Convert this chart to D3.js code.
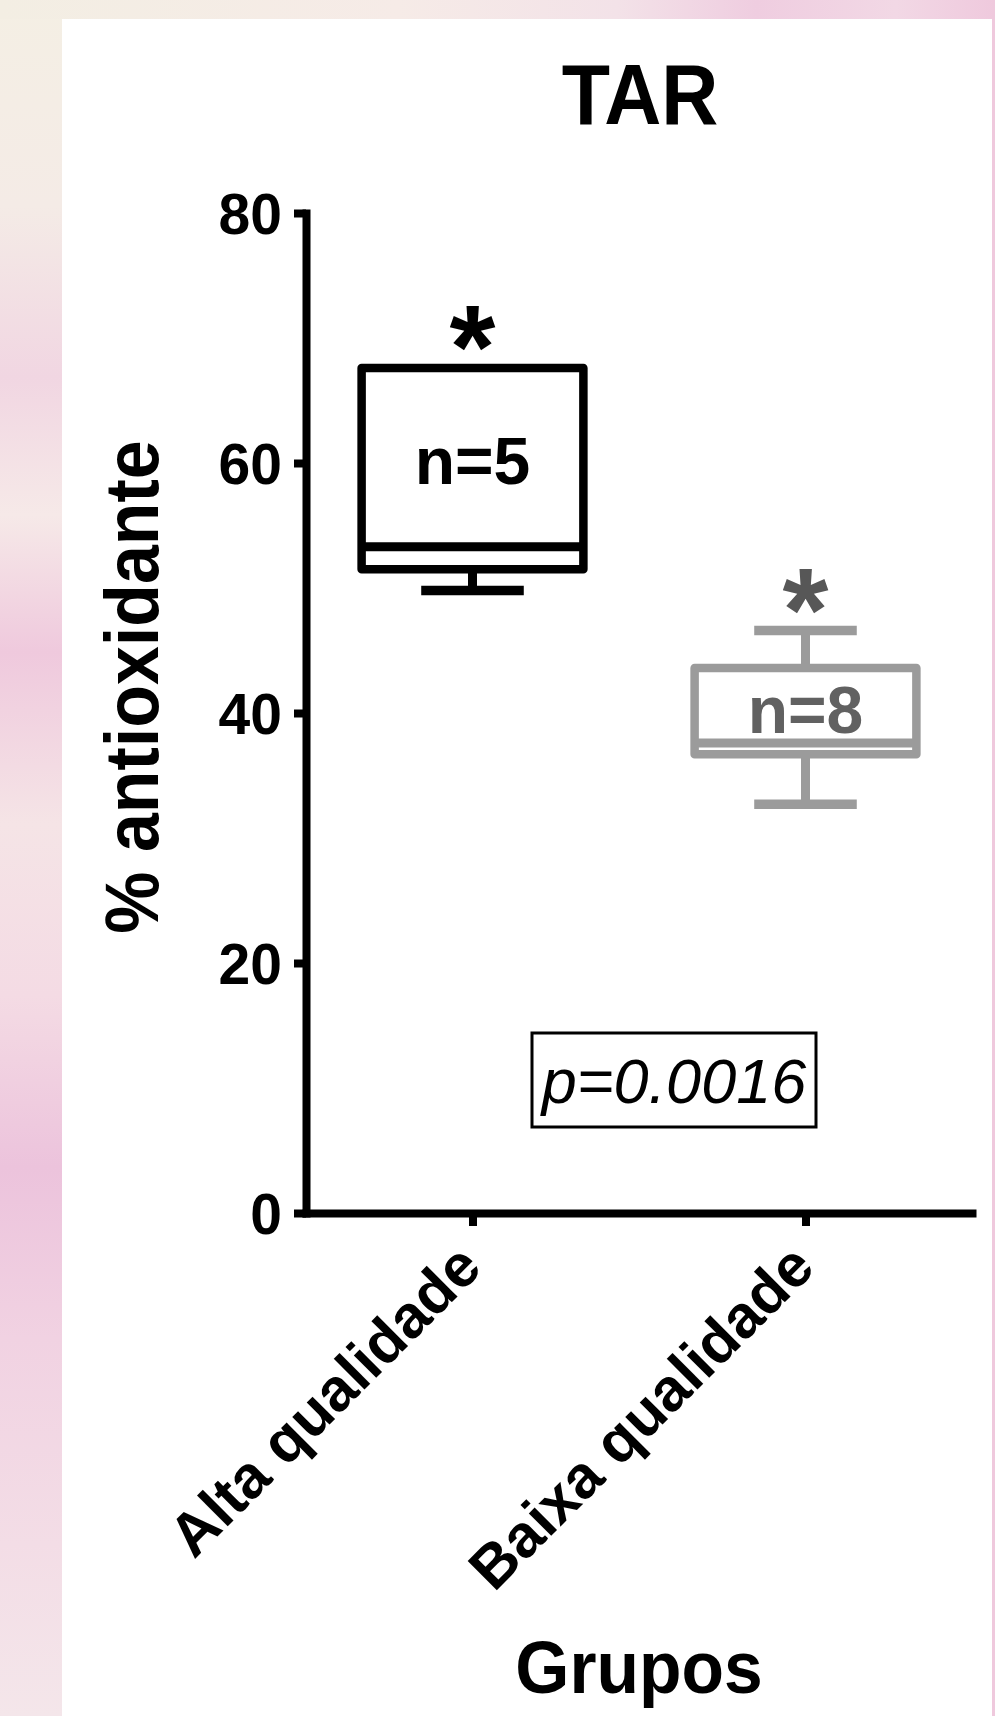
<!DOCTYPE html>
<html><head><meta charset="utf-8">
<script src="https://cdn.jsdelivr.net/npm/d3@7"></script>
<style>body{margin:0;background:#fff;} svg{display:block;}</style>
</head><body>
<svg id="c" width="995" height="1716"></svg>
<script>
// ---- data ----
const categories = ["Alta qualidade", "Baixa qualidade"];
const minValues = [49.8, 32.7];
const q1Values = [51.5, 36.7];
const medianValues = [53.3, 37.6];
const q3Values = [67.6, 43.6];
const maxValues = [67.6, 46.6];
const sampleLabels = ["n=5", "n=8"];
const yTicks = [0, 20, 40, 60, 80];
const chartTitle = "TAR";
const yTitle = "% antioxidante";
const xTitle = "Grupos";
const pValueText = "p=0.0016";

// ---- styles ----
const FONT = "'Liberation Sans', Arial, Helvetica, sans-serif";
const boxStroke = ["#000000", "#9b9b9b"];
const labelFill = ["#000000", "#616161"];
const starFill = ["#000000", "#575757"];

const svg = d3.select("#c");
const defs = svg.append("defs");

// background (blurred pink photo behind the white panel)
const gv = defs.append("linearGradient").attr("id", "bgv").attr("x1", 0).attr("y1", 0).attr("x2", 0).attr("y2", 1);
[["0%", "#f4efe4"], ["12%", "#f4ebe6"], ["22%", "#f1d6e2"], ["30%", "#f6e9e8"], ["38%", "#efc9dd"],
 ["48%", "#f5e4e6"], ["58%", "#f4dbe4"], ["68%", "#ecc3dc"], ["78%", "#f1d2e2"], ["90%", "#f3dde6"], ["100%", "#f4e6ea"]]
  .forEach(([o, c]) => gv.append("stop").attr("offset", o).attr("stop-color", c));
const gh = defs.append("linearGradient").attr("id", "bgh").attr("x1", 0).attr("y1", 0).attr("x2", 1).attr("y2", 0);
[["0%", "#f3eee3"], ["40%", "#f6ebe7"], ["62%", "#f3e2e8"], ["76%", "#efcde0"], ["90%", "#f2d8e5"], ["100%", "#efc9dd"]]
  .forEach(([o, c]) => gh.append("stop").attr("offset", o).attr("stop-color", c));

svg.append("rect").attr("width", 995).attr("height", 1716).attr("fill", "url(#bgv)");
svg.append("rect").attr("width", 995).attr("height", 19).attr("fill", "url(#bgh)");
svg.append("rect").attr("x", 992).attr("width", 3).attr("height", 1716).attr("fill", "#efc9dd");
svg.append("rect").attr("x", 62).attr("y", 19).attr("width", 930).attr("height", 1697).attr("fill", "#ffffff");

// ---- scales ----
const y = d3.scaleLinear().domain([0, 80]).range([1213, 213]);
const x = d3.scalePoint().domain(categories).range([306, 972]).padding(0.5);
const boxW = x.step() * 0.666;
const capW = x.step() * 0.308;

// ---- axes ----
const yAxis = svg.append("g").attr("transform", "translate(306,0)")
  .call(d3.axisLeft(y).tickValues(yTicks).tickSize(12).tickSizeOuter(0).tickPadding(12));
yAxis.select(".domain").attr("stroke", "#000").attr("stroke-width", 8).attr("stroke-linecap", "square");
yAxis.selectAll(".tick line").attr("stroke", "#000").attr("stroke-width", 8);
yAxis.selectAll(".tick text").attr("fill", "#000").attr("font-family", FONT)
  .attr("font-weight", "bold").attr("font-size", 57).attr("dy", "0.36em");

const xAxis = svg.append("g").attr("transform", "translate(0,1213)")
  .call(d3.axisBottom(x).tickSize(13).tickSizeOuter(0));
xAxis.select(".domain").attr("stroke", "#000").attr("stroke-width", 8).attr("stroke-linecap", "square");
xAxis.selectAll(".tick line").attr("stroke", "#000").attr("stroke-width", 8);
xAxis.selectAll(".tick text").attr("fill", "#000").attr("font-family", FONT)
  .attr("font-weight", "bold").attr("font-size", 60)
  .attr("x", null).attr("y", null).attr("dy", null)
  .attr("text-anchor", "end")
  .attr("transform", "translate(11,57) rotate(-45)");

// ---- boxes ----
const rows = categories.map((c, i) => ({
  c, i, min: minValues[i], q1: q1Values[i], med: medianValues[i], q3: q3Values[i], max: maxValues[i], n: sampleLabels[i]
}));

const g = svg.append("g");
rows.forEach(d => {
  const cx = x(d.c);
  const col = boxStroke[d.i];
  const grp = g.append("g");
  // whiskers
  grp.append("line").attr("x1", cx).attr("x2", cx).attr("y1", y(d.q1)).attr("y2", y(d.min))
    .attr("stroke", col).attr("stroke-width", 9);
  grp.append("line").attr("x1", cx).attr("x2", cx).attr("y1", y(d.q3)).attr("y2", y(d.max))
    .attr("stroke", col).attr("stroke-width", 9);
  grp.append("line").attr("x1", cx - capW / 2).attr("x2", cx + capW / 2).attr("y1", y(d.min)).attr("y2", y(d.min))
    .attr("stroke", col).attr("stroke-width", 9.5);
  if (d.max > d.q3) {
    grp.append("line").attr("x1", cx - capW / 2).attr("x2", cx + capW / 2).attr("y1", y(d.max)).attr("y2", y(d.max))
      .attr("stroke", col).attr("stroke-width", 9.5);
  }
  // box
  grp.append("rect").attr("x", cx - boxW / 2).attr("y", y(d.q3)).attr("width", boxW).attr("height", y(d.q1) - y(d.q3))
    .attr("fill", "#fff").attr("stroke", col).attr("stroke-width", 8.5).attr("stroke-linejoin", "round");
  // median
  grp.append("line").attr("x1", cx - boxW / 2).attr("x2", cx + boxW / 2).attr("y1", y(d.med)).attr("y2", y(d.med))
    .attr("stroke", col).attr("stroke-width", 9);
  // n label
  grp.append("text").attr("x", cx).attr("y", (y(d.q3) + y(d.med)) / 2 + 27)
    .attr("text-anchor", "middle").attr("font-family", FONT).attr("font-weight", "bold")
    .attr("font-size", 66).attr("fill", labelFill[d.i]).text(d.n);
  // significance star
  grp.append("text").attr("x", cx).attr("y", y(d.max) - 42 + 62)
    .attr("text-anchor", "middle").attr("font-family", FONT).attr("font-weight", "bold")
    .attr("font-size", 118).attr("fill", starFill[d.i]).text("*");
});

// ---- titles ----
svg.append("text").attr("transform", "translate(640,124) scale(0.93,1)")
  .attr("text-anchor", "middle").attr("font-family", FONT).attr("font-weight", "bold")
  .attr("font-size", 85).attr("fill", "#000").text(chartTitle);

svg.append("text").attr("transform", "translate(158,687) rotate(-90) scale(0.92,1)")
  .attr("text-anchor", "middle").attr("font-family", FONT).attr("font-weight", "bold")
  .attr("font-size", 76).attr("fill", "#000").text(yTitle);

svg.append("text").attr("transform", "translate(639,1693) scale(0.94,1)")
  .attr("text-anchor", "middle").attr("font-family", FONT).attr("font-weight", "bold")
  .attr("font-size", 74).attr("fill", "#000").text(xTitle);

// ---- p-value annotation ----
svg.append("rect").attr("x", 532).attr("y", 1033).attr("width", 284).attr("height", 94)
  .attr("fill", "none").attr("stroke", "#000").attr("stroke-width", 3);
svg.append("text").attr("x", 674).attr("y", 1103).attr("text-anchor", "middle")
  .attr("font-family", FONT).attr("font-style", "italic").attr("font-size", 63)
  .attr("fill", "#000").text(pValueText);
</script>
</body></html>
